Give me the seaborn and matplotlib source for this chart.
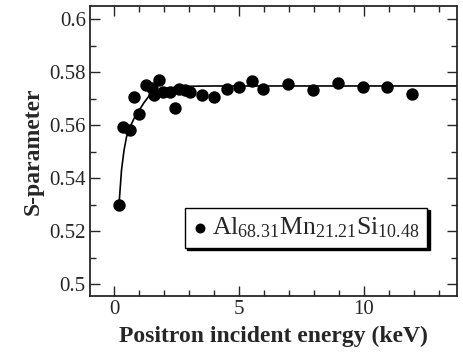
import numpy as np
import pandas as pd
import matplotlib
matplotlib.use("Agg")
import matplotlib.pyplot as plt
from matplotlib.ticker import MultipleLocator, FuncFormatter
import seaborn as sns

#  Data
energy = [0.2, 0.37, 0.62, 0.81, 1.01, 1.27, 1.51, 1.6, 1.81, 1.97, 2.24, 2.44, 2.61,
          2.84, 3.04, 3.51, 4.0, 4.51, 5.01, 5.51, 5.97, 6.97, 7.97, 8.95, 9.95, 10.93, 11.93]
s_param = [0.530, 0.5594, 0.5582, 0.5707, 0.5644, 0.5751, 0.5742, 0.5713, 0.5772, 0.5726, 0.5726,
           0.5663, 0.5738, 0.5732, 0.5726, 0.5713, 0.5707, 0.5735, 0.5745, 0.5767, 0.5736,
           0.5757, 0.5732, 0.5761, 0.5745, 0.5745, 0.5717]

# fitted curve
fit_energy = [0.2, 0.3, 0.4, 0.5, 0.6, 0.8, 1.0, 1.2, 1.4, 1.7, 2.0, 2.5, 3.0, 4.0, 14.0]
fit_s = [0.530, 0.543, 0.5505, 0.5555, 0.5585, 0.5625, 0.5655, 0.5685, 0.5710, 0.5728,
         0.5737, 0.5744, 0.5747, 0.5748, 0.5748]

label = r"Al$_{68.31}$Mn$_{21.21}$Si$_{10.48}$"

sns.set_style("ticks")
plt.rcParams['font.family'] = ['Liberation Serif', 'DejaVu Serif']
plt.rcParams['mathtext.fontset'] = 'custom'
plt.rcParams['mathtext.rm'] = 'Liberation Serif'
plt.rcParams['mathtext.it'] = 'Liberation Serif'
plt.rcParams['mathtext.default'] = 'regular'

df = pd.DataFrame({"E": energy, "S": s_param})
fit = pd.DataFrame({"E": fit_energy, "S": fit_s})

fig = plt.figure(figsize=(4.63, 3.56), dpi=100)
ax = fig.add_axes([90/463, 60/356, 367/463, 290/356])

sns.lineplot(data=fit, x="E", y="S", ax=ax, color="black", lw=1.2, sort=False, legend=False)
sns.scatterplot(data=df, x="E", y="S", ax=ax, color="black", s=80, edgecolor="black",
                linewidth=0, label=label, zorder=3)

ax.set_xlim(-0.96, 13.72)
ax.set_ylim(0.4955, 0.605)
ax.xaxis.set_major_locator(MultipleLocator(5))
ax.xaxis.set_minor_locator(MultipleLocator(1))
ax.yaxis.set_major_locator(MultipleLocator(0.02))
ax.yaxis.set_minor_locator(MultipleLocator(0.01))
ax.yaxis.set_major_formatter(FuncFormatter(lambda v, p: f"{v:g}"))
ax.tick_params(which="both", direction="in", top=True, right=True, labelsize=15, pad=3)
ax.tick_params(which="major", length=7, width=1)
ax.tick_params(which="minor", length=4, width=1)
for sp in ax.spines.values():
    sp.set_linewidth(1.3)

ax.set_xlabel("Positron incident energy (keV)", fontsize=17, fontweight="bold", labelpad=5)
ax.set_ylabel("S-parameter", fontsize=17, fontweight="bold", labelpad=4)

leg = ax.legend(loc="lower left", bbox_to_anchor=(0.259, 0.166), fontsize=18.5, frameon=True,
                fancybox=False, shadow={'color': 'black', 'alpha': 1, 'ox': 1.5, 'oy': -1.5},
                handletextpad=0.15, borderpad=0.3, borderaxespad=0,
                markerscale=0.8, handlelength=0.6)
leg.get_frame().set_edgecolor("black")
leg.get_frame().set_linewidth(1.0)

fig.savefig("out.png", dpi=100)
